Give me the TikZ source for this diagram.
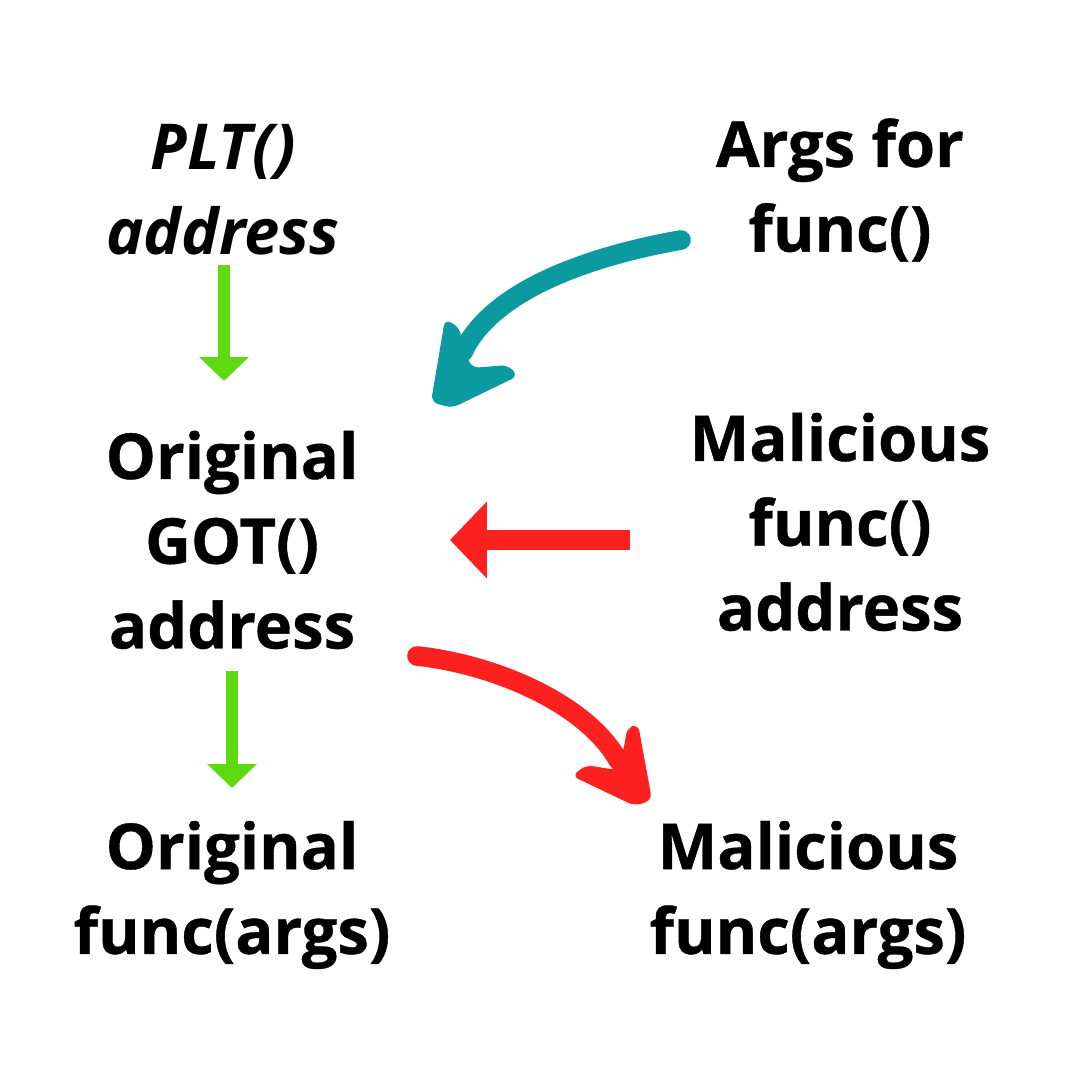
\documentclass[tikz,border=0pt]{standalone}
\usepackage{fontspec}
\setmainfont{Open Sans}[BoldFeatures={FakeBold=0.6}]
\usetikzlibrary{arrows.meta}
\definecolor{tealarrow}{RGB}{10,154,160}
\definecolor{redarrow}{RGB}{255,32,32}
\definecolor{greenarrow}{RGB}{95,217,15}
\begin{document}
\begin{tikzpicture}[x=0.01cm,y=-0.01cm,
    label/.style={align=center,inner sep=0pt,font=\bfseries\fontsize{18}{24.1}\selectfont},
    downarrow/.style={greenarrow,line width=3.4pt,-{Triangle[width=13.7pt,length=6.8pt]}},
    brush/.style={line width=5.6pt,line cap=round}]
        \useasboundingbox[fill=white] (0,0) rectangle (1080,1080);
        \node[label,font=\bfseries\itshape\fontsize{18}{24.1}\selectfont] (plt) at (223,190) {PLT()\\address};
        \node[label] (args) at (840,190) {Args for\\func()};
        \node[label] (got) at (232,540) {Original\\GOT()\\address};
        \node[label] (malfn) at (840,522) {Malicious\\func()\\address};
        \node[label] (origcall) at (232,895) {Original\\func(args)};
        \node[label] (malcall) at (808,895) {Malicious\\func(args)};
        \foreach \x/\ya/\yb/\n in {224/265/381/a,232/671/788/b}{
        \coordinate (s\n) at (\x,\ya);
        \coordinate (e\n) at (\x,\yb);
        \draw[downarrow] (s\n) -- (e\n);
        }
        \coordinate (redstart) at (630,540);
        \coordinate (redend) at (450,540);
        \draw[redarrow,line width=5.7pt,-{Triangle[width=21.3pt,length=10.5pt]}] (redstart) -- (redend);
        \draw[tealarrow,brush] (681,240) .. controls (590,256) and (492,290) .. (463,352);
        \fill[tealarrow,rounded corners=2pt] (462,345) -- (460,328) -- (445,319) -- (431,402) -- (452,408) -- (518,376) -- (508,365) -- (472,368) -- cycle;
        \draw[redarrow,brush] (417,656) .. controls (492,664) and (585,702) .. (618,760);
        \fill[redarrow,rounded corners=2pt] (624,748) -- (627,728) -- (638,724) -- (652,800) -- (635,806) -- (572,776) -- (586,765) -- (616,770) -- cycle;
    \end{tikzpicture}
\end{document}
